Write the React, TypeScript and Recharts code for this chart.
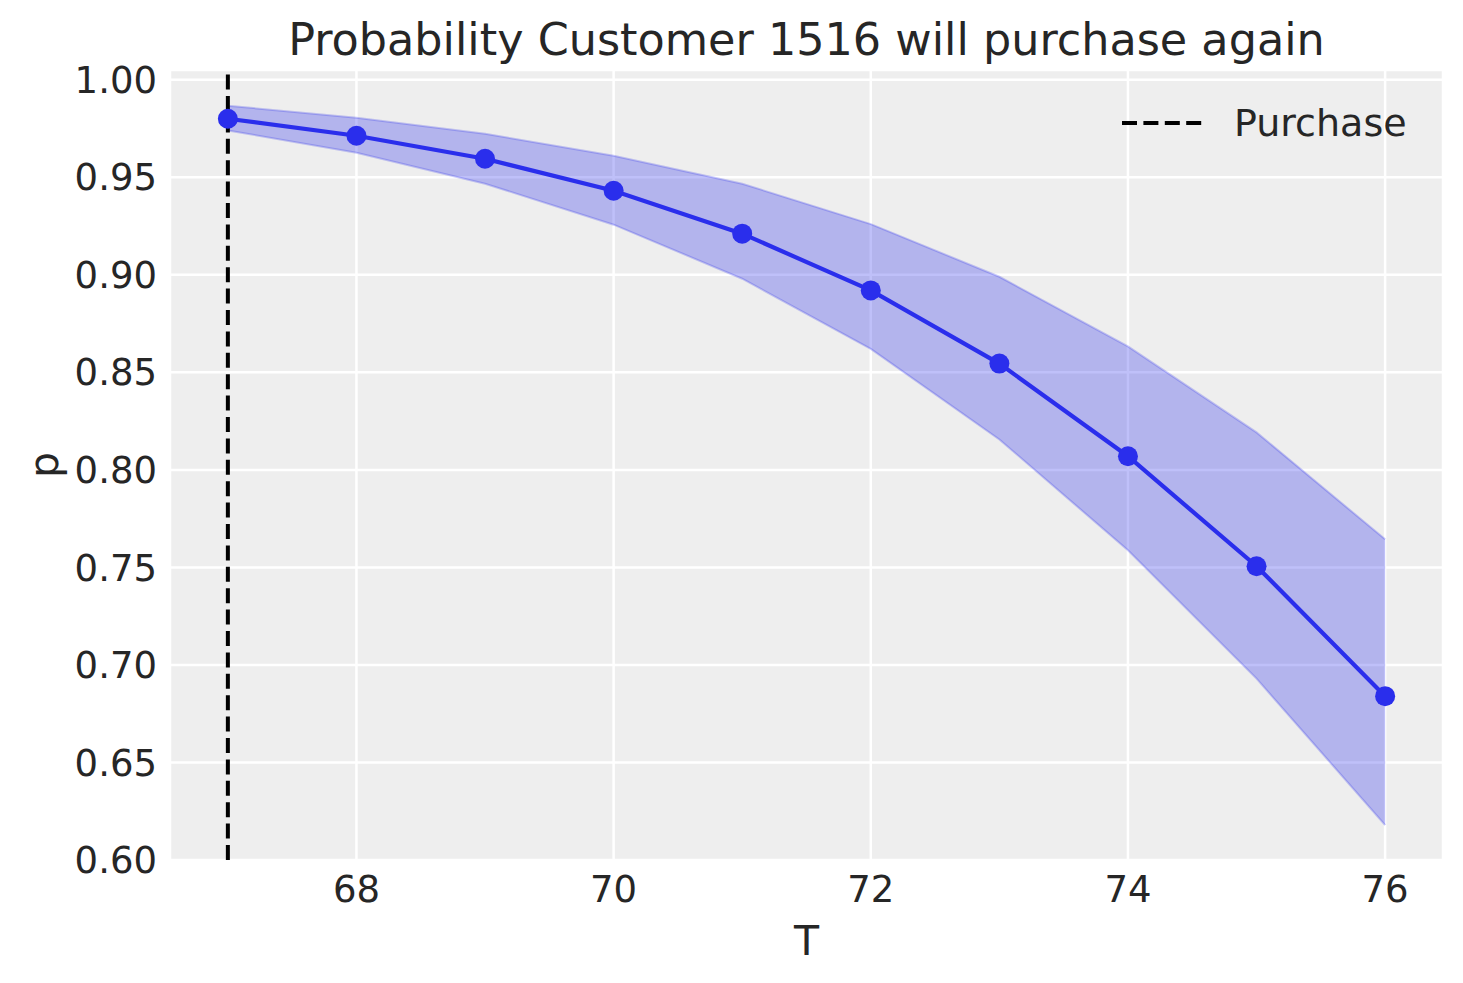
import {
  ComposedChart,
  Area,
  Line,
  XAxis,
  YAxis,
  CartesianGrid,
  ReferenceLine,
  Label,
} from 'recharts';

// T values and posterior summary of p (mean + HDI band)
const tValues = [67, 68, 69, 70, 71, 72, 73, 74, 75, 76];
const pMean = [0.98, 0.9713, 0.9595, 0.9431, 0.9211, 0.892, 0.8545, 0.807, 0.7506, 0.684];
const pLower = [0.974, 0.9626, 0.9467, 0.9257, 0.898, 0.862, 0.8156, 0.7588, 0.693, 0.6179];
const pUpper = [0.9867, 0.9805, 0.9723, 0.961, 0.9467, 0.926, 0.899, 0.8633, 0.8192, 0.7644];

const purchaseT = 67;
const xTicks = [68, 70, 72, 74, 76];
const yTicks = [0.6, 0.65, 0.7, 0.75, 0.8, 0.85, 0.9, 0.95, 1.0];

const data = tValues.map((t, i) => ({
  T: t,
  p: pMean[i],
  band: [pLower[i], pUpper[i]],
}));

const BLUE = '#2a2eec';
const TEXT = '#262626';
const FONT = '"DejaVu Sans", sans-serif';
const TICK_SIZE = 37;

export default function App() {
  return (
    <div style={{ position: 'absolute', left: 0, top: 0, width: 1463, height: 983, background: '#fff' }}>
      <div
        style={{
          position: 'absolute',
          left: 170,
          width: 1273,
          top: 14,
          textAlign: 'center',
          fontFamily: FONT,
          fontSize: 44.5,
          color: TEXT,
          lineHeight: '52px',
        }}
      >
        Probability Customer 1516 will purchase again
      </div>
      <ComposedChart
        width={1463}
        height={983}
        data={data}
        margin={{ top: 70, right: 20, left: 0, bottom: 0 }}
      >
        <CartesianGrid fill="#eeeeee" stroke="#ffffff" strokeWidth={2.5} />
        <XAxis
          dataKey="T"
          type="number"
          domain={[66.55, 76.45]}
          ticks={xTicks}
          allowDataOverflow
          height={123}
          axisLine={false}
          tickLine={false}
          tickSize={0}
          tickMargin={16}
          tick={{ fill: TEXT, fontSize: TICK_SIZE, fontFamily: FONT }}
        >
          <Label
            content={({ viewBox }: any) => (
              <text
                x={viewBox.x + viewBox.width / 2}
                y={viewBox.y + 95}
                textAnchor="middle"
                fill={TEXT}
                fontSize={41}
                fontFamily={FONT}
              >
                T
              </text>
            )}
          />
        </XAxis>
        <YAxis
          type="number"
          domain={[0.6, 1.005]}
          ticks={yTicks}
          allowDataOverflow
          width={170}
          axisLine={false}
          tickLine={false}
          tickSize={0}
          tickMargin={13}
          tickFormatter={(v: number) => v.toFixed(2)}
          tick={{ fill: TEXT, fontSize: TICK_SIZE, fontFamily: FONT }}
        >
          <Label
            content={({ viewBox }: any) => {
              const cx = viewBox.x + 44;
              const cy = viewBox.y + viewBox.height / 2;
              return (
                <text
                  x={cx}
                  y={cy}
                  transform={`rotate(-90 ${cx} ${cy})`}
                  textAnchor="middle"
                  dominantBaseline="central"
                  fill={TEXT}
                  fontSize={41}
                  fontFamily={FONT}
                >
                  p
                </text>
              );
            }}
          />
        </YAxis>
        <Area
          type="linear"
          dataKey="band"
          fill={BLUE}
          fillOpacity={0.3}
          stroke={BLUE}
          strokeOpacity={0.25}
          strokeWidth={2}
          isAnimationActive={false}
        />
        <ReferenceLine x={purchaseT} stroke="#000" strokeWidth={4} strokeDasharray="15 6.4" />
        <Line
          type="linear"
          dataKey="p"
          stroke={BLUE}
          strokeWidth={4.2}
          dot={{ r: 10, fill: BLUE, stroke: 'none' }}
          activeDot={false}
          isAnimationActive={false}
        />
      </ComposedChart>
      <div
        style={{
          position: 'absolute',
          left: 1122,
          top: 101,
          display: 'flex',
          alignItems: 'center',
          fontFamily: FONT,
          fontSize: 38,
          color: TEXT,
        }}
      >
        <svg width={80} height={10} style={{ marginRight: 32 }}>
          <line x1={0} y1={5} x2={80} y2={5} stroke="#000" strokeWidth={4} strokeDasharray="15 6.4" />
        </svg>
        <span>Purchase</span>
      </div>
    </div>
  );
}
